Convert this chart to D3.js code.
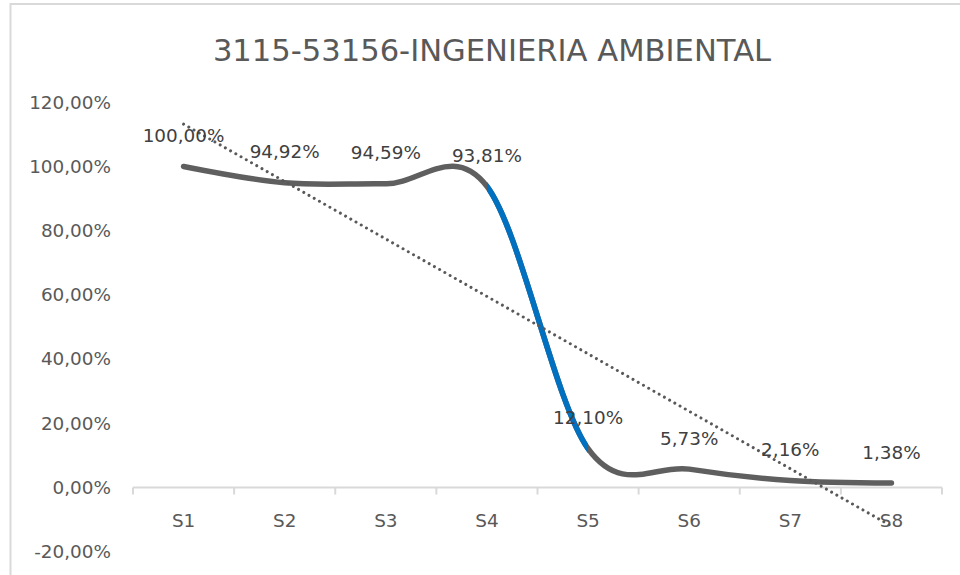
<!DOCTYPE html>
<html>
<head>
<meta charset="utf-8">
<script src="https://cdn.jsdelivr.net/npm/d3@7"></script>
<style>
  html, body { margin: 0; padding: 0; background: #ffffff; }
  svg { display: block; }
  text { font-family: "DejaVu Sans", "Open Sans", sans-serif; }
</style>
</head>
<body>
<svg id="chart" width="960" height="575"></svg>
<script>
// ---- data ----
const title = "3115-53156-INGENIERIA AMBIENTAL";
const categories = ["S1", "S2", "S3", "S4", "S5", "S6", "S7", "S8"];
const values = [1.0000, 0.9492, 0.9459, 0.9381, 0.1210, 0.0573, 0.0216, 0.0138];
const valueLabels = ["100,00%", "94,92%", "94,59%", "93,81%", "12,10%", "5,73%", "2,16%", "1,38%"];
const yTicks = [-0.2, 0, 0.2, 0.4, 0.6, 0.8, 1.0, 1.2];
const highlightSegment = ["S4", "S5"];

// ---- setup ----
const svg = d3.select("#chart");
const W = 960, H = 575;
const plot = { left: 133, right: 942, top: 102.25, bottom: 551.75 };

// chart border (partially visible, like the source screenshot)
svg.append("rect")
  .attr("x", 10.5).attr("y", 4)
  .attr("width", 1000).attr("height", 700)
  .attr("fill", "#ffffff")
  .attr("stroke", "#d9d9d9").attr("stroke-width", 2);

const x = d3.scaleBand().domain(categories).range([plot.left, plot.right]).padding(0);
const cx = c => x(c) + x.bandwidth() / 2;
const y = d3.scaleLinear().domain([-0.2, 1.2]).range([plot.bottom, plot.top]);

const fmt = v => d3.format(".2f")(v * 100).replace("\u2212", "-").replace(".", ",") + "%";

// title
svg.append("text")
  .attr("x", 492).attr("y", 61)
  .attr("text-anchor", "middle")
  .attr("font-size", 30.6)
  .attr("fill", "#595959")
  .text(title);

// y axis labels (no axis line, no gridlines)
const yAxis = d3.axisLeft(y).tickValues(yTicks).tickFormat(fmt).tickSize(0).tickPadding(0);
const gy = svg.append("g").attr("transform", "translate(111,0)").call(yAxis);
gy.select(".domain").remove();
gy.selectAll("text")
  .attr("font-size", 18.4)
  .attr("fill", "#595959")
  .attr("font-family", "DejaVu Sans, sans-serif");

// x axis
const xAxis = d3.axisBottom(x).tickSize(0).tickPadding(0);
const gx = svg.append("g").attr("transform", `translate(0,${y(0)})`).call(xAxis);
gx.select(".domain").attr("stroke", "#d9d9d9").attr("stroke-width", 2).attr("d", `M${plot.left},0H${plot.right}`);
gx.selectAll(".tick text")
  .attr("y", 26)
  .attr("font-size", 18.4)
  .attr("fill", "#595959")
  .attr("font-family", "DejaVu Sans, sans-serif");
// category boundary ticks
const bounds = categories.map(c => x(c)).concat([x(categories[categories.length - 1]) + x.bandwidth()]);
gx.selectAll("line.bound").data(bounds).enter().append("line")
  .attr("class", "bound")
  .attr("x1", d => d).attr("x2", d => d)
  .attr("y1", 0).attr("y2", 7)
  .attr("stroke", "#d9d9d9").attr("stroke-width", 2);

// data points
const pts = categories.map((c, i) => ({ c, v: values[i], label: valueLabels[i], i }));

// smoothed line
const line = d3.line()
  .x(d => cx(d.c))
  .y(d => y(d.v))
  .curve(d3.curveCardinal.tension(0));

svg.append("path")
  .datum(pts)
  .attr("d", line)
  .attr("fill", "none")
  .attr("stroke", "#5f5f5f")
  .attr("stroke-width", 5.5)
  .attr("stroke-linecap", "round")
  .attr("stroke-linejoin", "round");

// highlighted segment (blue) between S4 and S5
svg.append("clipPath").attr("id", "segclip")
  .append("rect")
  .attr("x", cx(highlightSegment[0]))
  .attr("y", 0)
  .attr("width", cx(highlightSegment[1]) - cx(highlightSegment[0]))
  .attr("height", H);

svg.append("path")
  .datum(pts)
  .attr("d", line)
  .attr("clip-path", "url(#segclip)")
  .attr("fill", "none")
  .attr("stroke", "#0070c0")
  .attr("stroke-width", 5.5)
  .attr("stroke-linejoin", "round");

// linear trendline (least squares on category index)
const n = values.length;
const xs = d3.range(1, n + 1);
const mx = d3.mean(xs), my = d3.mean(values);
const slope = d3.sum(xs, (xi, i) => (xi - mx) * (values[i] - my)) / d3.sum(xs, xi => (xi - mx) ** 2);
const intercept = my - slope * mx;
const trend = [1, n].map(k => ({ c: categories[k - 1], v: intercept + slope * k }));

svg.append("line")
  .attr("x1", cx(trend[0].c)).attr("y1", y(trend[0].v))
  .attr("x2", cx(trend[1].c)).attr("y2", y(trend[1].v))
  .attr("stroke", "#595959")
  .attr("stroke-width", 3)
  .attr("stroke-linecap", "round")
  .attr("stroke-dasharray", "0.01,6");

// data labels
svg.selectAll("text.dl").data(pts).enter().append("text")
  .attr("class", "dl")
  .attr("x", d => cx(d.c))
  .attr("y", d => y(d.v) - 24.5)
  .attr("text-anchor", "middle")
  .attr("font-size", 18.4)
  .attr("fill", "#404040")
  .text(d => d.label);
</script>
</body>
</html>
